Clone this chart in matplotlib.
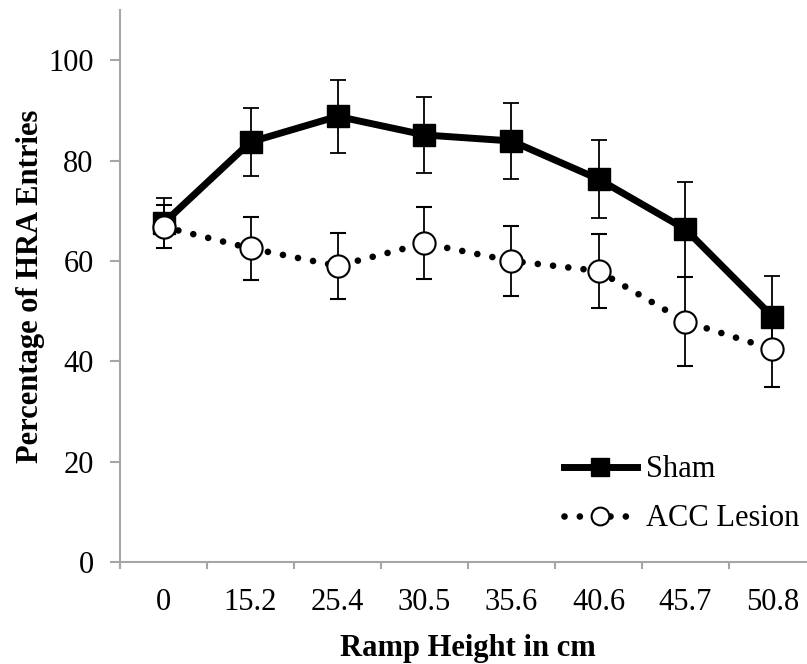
import matplotlib.pyplot as plt
import numpy as np

heights = ['0', '15.2', '25.4', '30.5', '35.6', '40.6', '45.7', '50.8']
sham = [67.5, 83.7, 88.8, 85.1, 83.9, 76.3, 66.3, 48.9]
sham_err = [5.0, 6.7, 7.2, 7.5, 7.5, 7.7, 9.5, 8.0]
acc = [66.8, 62.5, 59.0, 63.5, 60.0, 58.0, 47.9, 42.4]
acc_err = [4.3, 6.3, 6.6, 7.2, 7.0, 7.3, 8.9, 7.6]

plt.rcParams['font.family'] = ['Liberation Serif', 'DejaVu Serif']
grey = '#a6a6a6'

fig = plt.figure(figsize=(8.07, 6.64), dpi=100)
ax = fig.add_axes([120 / 807, 102 / 664, 696 / 807, 552 / 664])
x = np.arange(len(heights))

ax.errorbar(x, sham, yerr=sham_err, color='black', lw=5, marker='s', ms=16,
            ecolor='black', elinewidth=1.3, capsize=6, capthick=1.3,
            label='Sham', zorder=3)
ax.errorbar(x, acc, yerr=acc_err, color='black', lw=4.8, ls=(0, (0.001, 2.3)),
            dash_capstyle='round', marker='o', ms=16, mfc='white', mec='black',
            mew=1.5, ecolor='black', elinewidth=1.3, capsize=6, capthick=1.3,
            label='ACC Lesion', zorder=4)

ax.set_xlim(-0.5, 7.5)
ax.set_ylim(0, 110)
ax.set_yticks(range(0, 101, 20))
ax.set_xticks(x)
ax.set_xticklabels(heights)
ax.set_xticks(np.arange(-0.5, 7.6, 1), minor=True)
ax.tick_params(axis='x', which='major', length=0, labelsize=22, pad=19)
ax.tick_params(axis='x', which='minor', length=5, color=grey, width=1.5)
ax.tick_params(axis='y', length=7, color=grey, width=1.5, labelsize=22, pad=12)

for s in ['top', 'right']:
    ax.spines[s].set_visible(False)
for s in ['left', 'bottom']:
    ax.spines[s].set_color(grey)
    ax.spines[s].set_linewidth(1.5)

ax.set_ylabel('Percentage of HRA Entries', fontsize=22, fontweight='bold', labelpad=2)
ax.set_xlabel('Ramp Height in cm', fontsize=22, fontweight='bold', labelpad=12)

handles, labels = ax.get_legend_handles_labels()
handles = [h[0] for h in handles]
ax.legend(handles, labels, loc='lower right', bbox_to_anchor=(0.994, 0.03),
          frameon=False, fontsize=22, handlelength=2.4, handletextpad=0.3,
          labelspacing=0.65, borderaxespad=0, markerscale=0.8)

fig.savefig('out.png', dpi=100)
